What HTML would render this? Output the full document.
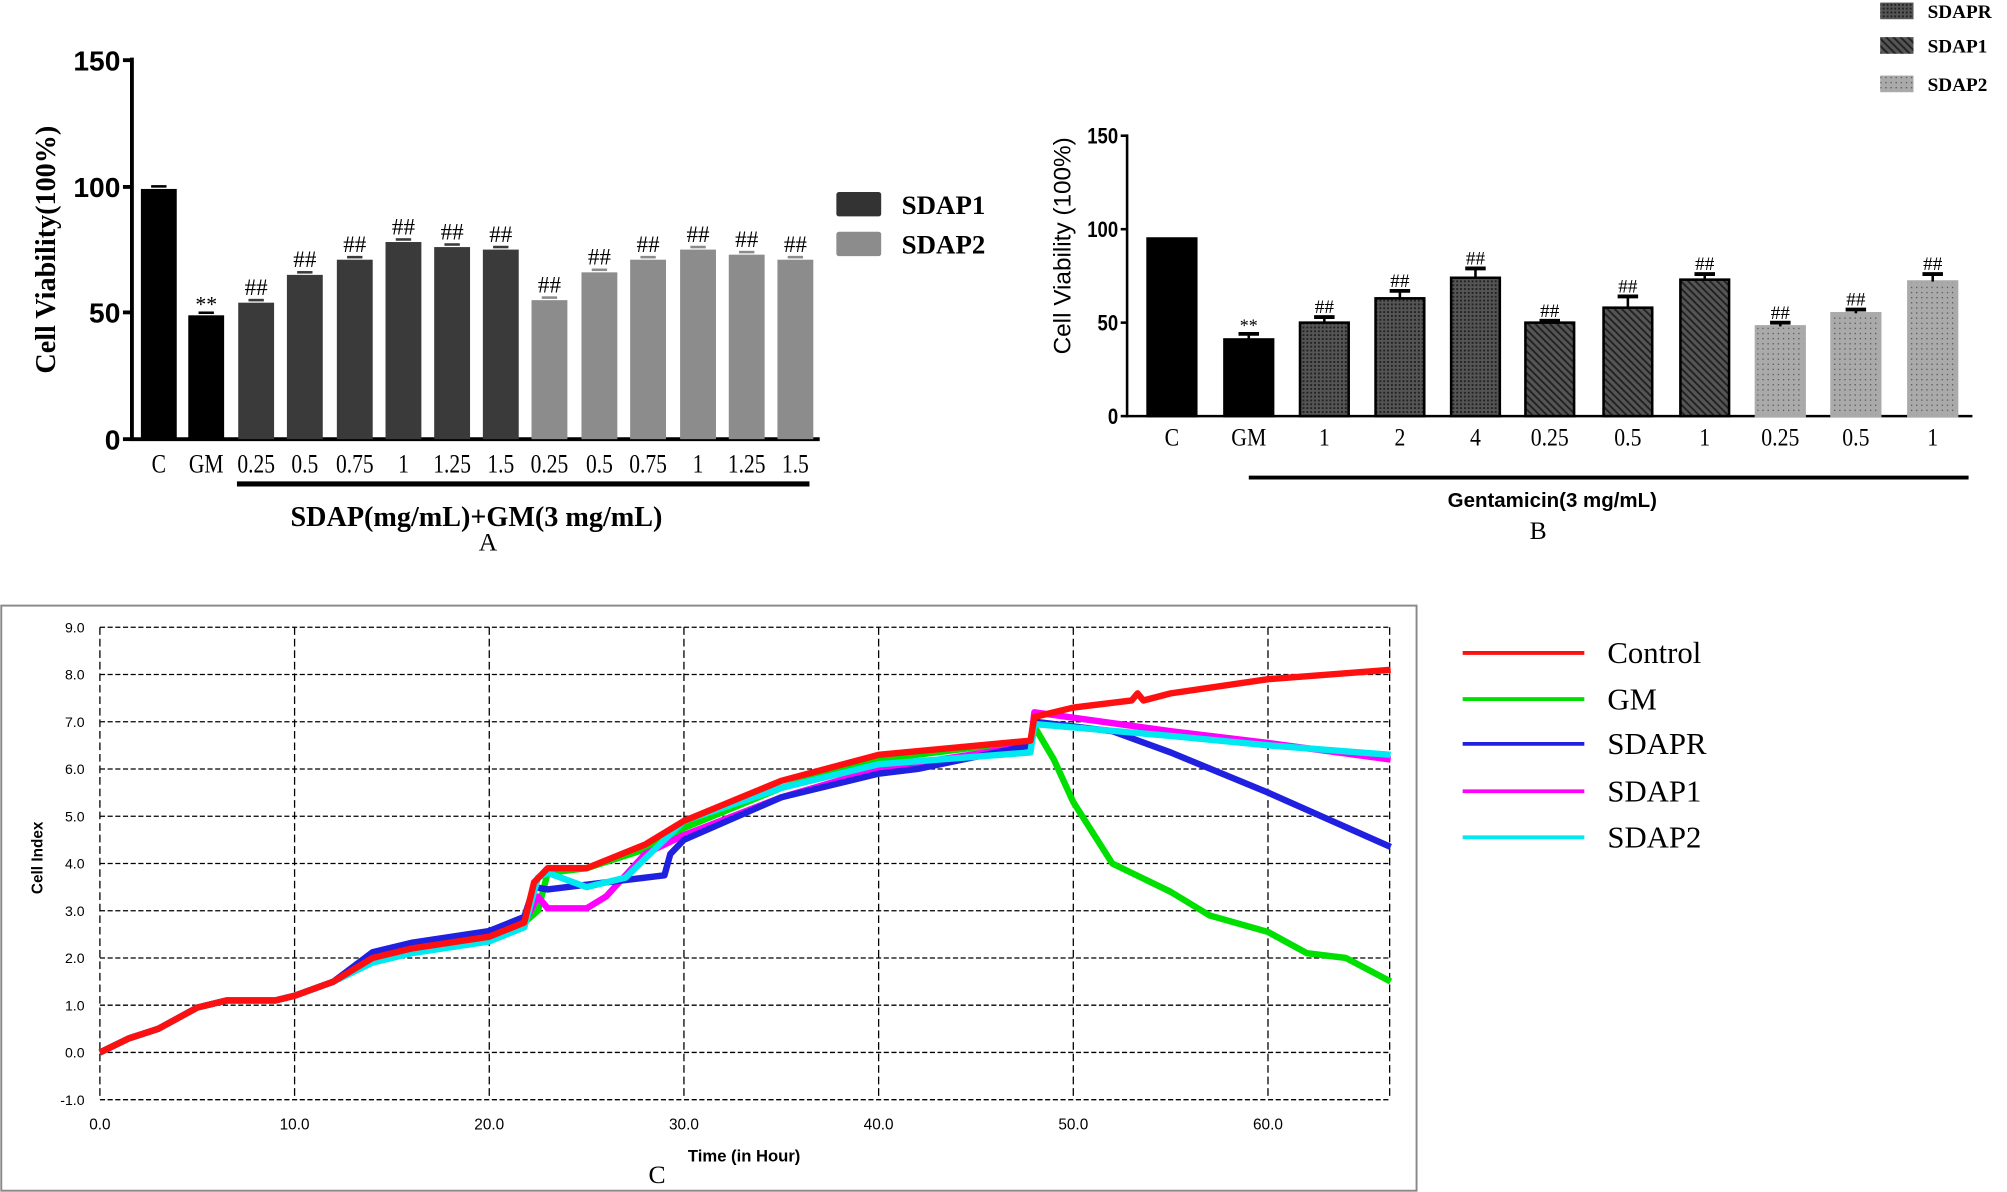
<!DOCTYPE html>
<html><head><meta charset="utf-8"><style>
html,body{margin:0;padding:0;background:#fff;width:2007px;height:1192px;overflow:hidden}
svg{display:block}
.s{font-family:"Liberation Serif",serif}
.a{font-family:"Liberation Sans",sans-serif}
</style></head><body>
<svg id="g" width="2007" height="1192" viewBox="0 0 1567 931" preserveAspectRatio="none" xmlns="http://www.w3.org/2000/svg">
<defs>
<pattern id="pr" width="3" height="3" patternUnits="userSpaceOnUse"><rect width="3" height="3" fill="#555"/><rect width="1.5" height="1.5" fill="#222"/></pattern>
<pattern id="p1" width="4" height="4" patternUnits="userSpaceOnUse" patternTransform="rotate(-45)"><rect width="4" height="4" fill="#555"/><rect width="1.5" height="4" fill="#222"/></pattern>
<pattern id="p2" width="4" height="4" patternUnits="userSpaceOnUse"><rect width="4" height="4" fill="#aaa"/><rect width="1" height="1" fill="#555"/></pattern>
</defs>
<g id="A"></g><g id="B"></g><g id="C"></g>
</svg>
<script>
const NS="http://www.w3.org/2000/svg";
function el(p,t,a,txt){const e=document.createElementNS(NS,t);for(const k in a)e.setAttribute(k,a[k]);if(txt!==undefined)e.textContent=txt;document.getElementById(p).appendChild(e);return e;}
// Panel A
(function(){
 const y0=343,sc=98.7/50;
 el("A","line",{x1:103,y1:45,x2:103,y2:344,stroke:"#000","stroke-width":3});
 el("A","line",{x1:102,y1:343,x2:640,y2:343,stroke:"#000","stroke-width":3});
 [[150,47],[100,146],[50,244],[0,343]].forEach(([v,y])=>{el("A","line",{x1:96,y1:y,x2:103,y2:y,stroke:"#000","stroke-width":3});el("A","text",{x:94,y:y+8,"text-anchor":"end","font-size":22,"font-weight":"bold",class:"a"},v);});
 el("A","text",{x:0,y:0,transform:"translate(43,195) rotate(-90)","text-anchor":"middle","font-size":22,"font-weight":"bold",class:"s"},"Cell Viability(100%)");
 const c=[124,161,200,238,277,315,353,391,429,468,506,545,583,621];
 const v=[99,49,54,65,71,78,76,75,55,66,71,75,73,71];
 const lb=["C","GM","0.25","0.5","0.75","1","1.25","1.5","0.25","0.5","0.75","1","1.25","1.5"];
 c.forEach((x,i)=>{const col=i<2?"#000":(i<8?"#3a3a3a":"#8c8c8c");const h=v[i]*sc;
  el("A","rect",{x:x-14,y:y0-h,width:28,height:h,fill:col});
  el("A","line",{x1:x-6,y1:y0-h-2,x2:x+6,y2:y0-h-2,stroke:col,"stroke-width":2});
  el("A","text",{x:0,y:0,transform:`translate(${x},369) scale(0.8,1)`,"text-anchor":"middle","font-size":21,class:"s"},lb[i]);
  if(i==1)el("A","text",{x:x,y:y0-h-3,"text-anchor":"middle","font-size":17,class:"s"},"**");
  if(i>1)el("A","text",{x:x,y:y0-h-6,"text-anchor":"middle","font-size":18,class:"s"},"##");});
 el("A","line",{x1:185,y1:378,x2:632,y2:378,stroke:"#000","stroke-width":4});
 el("A","text",{x:372,y:411,"text-anchor":"middle","font-size":22,"font-weight":"bold",class:"s"},"SDAP(mg/mL)+GM(3 mg/mL)");
 el("A","text",{x:381,y:430,"text-anchor":"middle","font-size":20,class:"s"},"A");
 el("A","rect",{x:653,y:150,width:35,height:19,fill:"#333",rx:2});
 el("A","rect",{x:653,y:181,width:35,height:19,fill:"#8c8c8c",rx:2});
 el("A","text",{x:704,y:167,"font-size":21,"font-weight":"bold",class:"s"},"SDAP1");
 el("A","text",{x:704,y:198,"font-size":21,"font-weight":"bold",class:"s"},"SDAP2");
})();
// Panel B
(function(){
 const y0=325,sc=73/50;
 el("B","line",{x1:880,y1:105,x2:880,y2:326,stroke:"#000","stroke-width":2});
 el("B","line",{x1:879,y1:325,x2:1540,y2:325,stroke:"#000","stroke-width":2});
 [[150,106],[100,179],[50,252],[0,325]].forEach(([v,y])=>{el("B","line",{x1:875,y1:y,x2:880,y2:y,stroke:"#000","stroke-width":2});el("B","text",{x:0,y:0,transform:`translate(873,${y+6}) scale(0.85,1)`,"text-anchor":"end","font-size":17,"font-weight":"bold",class:"a"},v);});
 el("B","text",{x:0,y:0,transform:"translate(836,192) rotate(-90)","text-anchor":"middle","font-size":19,class:"a"},"Cell Viability (100%)");
 const c=[915,975,1034,1093,1152,1210,1271,1331,1390,1449,1509];
 const v=[95,41,50,63,74,50,58,73,48,55,72];
 const e=[0,3,3,4,5,1,6,3,2,2,4];
 const lb=["C","GM","1","2","4","0.25","0.5","1","0.25","0.5","1"];
 c.forEach((x,i)=>{const f=i<2?"#000":i<5?"url(#pr)":i<8?"url(#p1)":"url(#p2)";const h=v[i]*sc;const st=i<8?"#000":"#aaa";
  el("B","rect",{x:x-19,y:y0-h,width:38,height:h,fill:f,stroke:st,"stroke-width":2});
  if(e[i]){el("B","line",{x1:x,y1:y0-h,x2:x,y2:y0-h-e[i]*sc,stroke:"#000","stroke-width":2});el("B","line",{x1:x-8,y1:y0-h-e[i]*sc,x2:x+8,y2:y0-h-e[i]*sc,stroke:"#000","stroke-width":3});}
  el("B","text",{x:0,y:0,transform:`translate(${x},348) scale(0.85,1)`,"text-anchor":"middle","font-size":20,class:"s"},lb[i]);
  if(i==1)el("B","text",{x:x,y:y0-h-e[i]*sc-2,"text-anchor":"middle","font-size":14,class:"s"},"**");
  if(i>1)el("B","text",{x:x,y:y0-h-e[i]*sc-3,"text-anchor":"middle","font-size":15,class:"s"},"##");});
 el("B","line",{x1:975,y1:373,x2:1537,y2:373,stroke:"#000","stroke-width":3});
 el("B","text",{x:1212,y:396,"text-anchor":"middle","font-size":16,"font-weight":"bold",class:"a"},"Gentamicin(3 mg/mL)");
 el("B","text",{x:1201,y:421,"text-anchor":"middle","font-size":20,class:"s"},"B");
 [[2,"url(#pr)","SDAPR"],[29,"url(#p1)","SDAP1"],[59,"url(#p2)","SDAP2"]].forEach(([y,f,t])=>{el("B","rect",{x:1468,y:y,width:26,height:13,fill:f});el("B","text",{x:1505,y:y+12,"font-size":15,"font-weight":"bold",class:"s"},t);});
})();
// Panel C
(function(){
 el("C","rect",{x:1,y:473,width:1105,height:457,fill:"#fff",stroke:"#888","stroke-width":1.5});
 const X=h=>78+h*15.2, Y=v=>822-v*36.9;
 for(let v=-1;v<=9;v++){el("C","line",{x1:78,y1:Y(v),x2:1085,y2:Y(v),stroke:"#000","stroke-width":1,"stroke-dasharray":"4,2"});
  el("C","text",{x:66,y:Y(v)+4,"text-anchor":"end","font-size":11,class:"a"},v.toFixed(1));}
 for(let h=0;h<=60;h+=10){el("C","line",{x1:X(h),y1:Y(9),x2:X(h),y2:Y(-1),stroke:"#000","stroke-width":1,"stroke-dasharray":"6,3"});
  el("C","text",{x:X(h),y:882,"text-anchor":"middle","font-size":12,class:"a"},h.toFixed(1));}
 el("C","line",{x1:1085,y1:Y(9),x2:1085,y2:Y(-1),stroke:"#000","stroke-width":1,"stroke-dasharray":"6,3"});
 el("C","text",{x:0,y:0,transform:"translate(33,670) rotate(-90)","text-anchor":"middle","font-size":12,"font-weight":"bold",class:"a"},"Cell Index");
 el("C","text",{x:581,y:907,"text-anchor":"middle","font-size":13,"font-weight":"bold",class:"a"},"Time (in Hour)");
 el("C","text",{x:513,y:924,"text-anchor":"middle","font-size":20,class:"s"},"C");
 const base=[[0,0],[1.5,0.3],[3,0.5],[5,0.95],[6.5,1.1],[9,1.1],[10,1.2],[12,1.5],[14,2.0],[16,2.2],[20,2.45],[21.8,2.75]];
 const S=[
  ["#00e000",base.concat([[22.5,3.0],[23,3.8],[25,3.9],[28,4.3],[30,4.75],[35,5.6],[40,6.2],[47.8,6.6],[48,6.9],[49,6.2],[50,5.3],[52,4.0],[55,3.4],[57,2.9],[60,2.55],[62,2.1],[64,2.0],[66.3,1.5]])],
  ["#ff00ff",base.concat([[22.5,3.3],[23,3.05],[25,3.05],[26,3.3],[28,4.2],[30,4.6],[35,5.4],[40,6.0],[47.8,6.5],[48,7.2],[55,6.8],[60,6.55],[66.3,6.2]])],
  ["#2020e0",base.map(p=>[p[0],p[1]+(p[0]>13?0.12:0)]).concat([[22.3,3.5],[23,3.45],[25,3.55],[29,3.75],[29.3,4.2],[30,4.5],[35,5.4],[40,5.9],[42,6.0],[47.8,6.5],[48,7.0],[52,6.8],[55,6.35],[60,5.5],[66.3,4.35]])],
  ["#00e8f0",base.map(p=>[p[0],p[1]-(p[0]>13?0.1:0)]).concat([[22.5,3.7],[23,3.8],[25,3.5],[27,3.7],[30,4.9],[35,5.6],[40,6.1],[47.8,6.35],[48,6.95],[55,6.7],[60,6.5],[66.3,6.3]])],
  ["#ff1010",base.concat([[22.3,3.6],[23,3.9],[25,3.9],[28,4.4],[30,4.9],[35,5.75],[40,6.3],[47.8,6.6],[48,7.1],[50,7.3],[53,7.45],[53.3,7.6],[53.6,7.45],[55,7.6],[60,7.9],[66.3,8.1]])]
 ];
 S.forEach(([c,pts])=>{el("C","polyline",{points:pts.map(p=>X(p[0])+","+Y(p[1])).join(" "),fill:"none",stroke:c,"stroke-width":5,"stroke-linejoin":"round"});});
 [["#ff1010","Control",510],["#00e000","GM",546],["#2020e0","SDAPR",581],["#ff00ff","SDAP1",618],["#00e8f0","SDAP2",654]].forEach(([c,t,y])=>{
  el("C","line",{x1:1142,y1:y,x2:1237,y2:y,stroke:c,"stroke-width":3});
  el("C","text",{x:1255,y:y+8,"font-size":24,class:"s"},t);});
})();
</script>
</body></html>
